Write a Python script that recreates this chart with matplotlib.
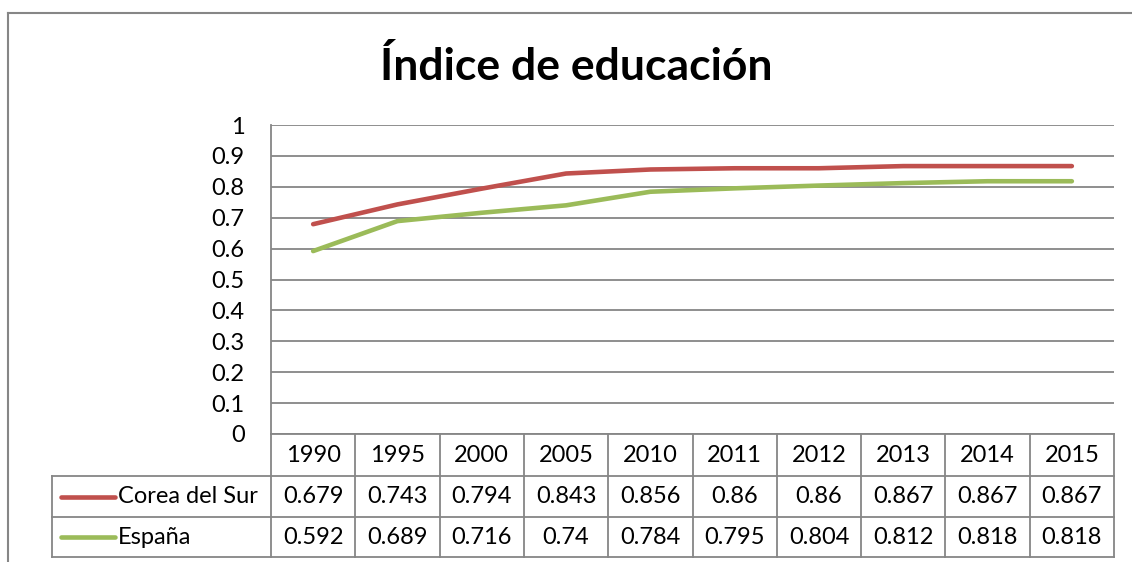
import matplotlib
matplotlib.use("Agg")
import matplotlib.pyplot as plt
from matplotlib.lines import Line2D

plt.rcParams['font.family'] = ['Lato', 'DejaVu Sans']

years = ["1990", "1995", "2000", "2005", "2010", "2011", "2012", "2013", "2014", "2015"]
corea = [0.679, 0.743, 0.794, 0.843, 0.856, 0.86, 0.86, 0.867, 0.867, 0.867]
espana = [0.592, 0.689, 0.716, 0.74, 0.784, 0.795, 0.804, 0.812, 0.818, 0.818]
series_names = ["Corea del Sur", "España"]
series_colors = ["#C0504D", "#9BBB59"]
yticks = [0, 0.1, 0.2, 0.3, 0.4, 0.5, 0.6, 0.7, 0.8, 0.9, 1]
title = "Índice de educación"

W, H = 1132, 562
fig = plt.figure(figsize=(W / 100, H / 100), dpi=100)
GRID = "#868686"
FS = 17

def fx(px):
    return px / W

def fy(py):
    return 1 - py / H

# outer chart border
fig.add_artist(Line2D([fx(8), fx(8)], [fy(13), fy(570)], color=GRID, lw=1.5))
fig.add_artist(Line2D([fx(8), fx(1140)], [fy(13), fy(13)], color=GRID, lw=1.5))

# plot area
L, R, T, B = 271, 1114, 125, 434
ax = fig.add_axes([fx(L), fy(B), fx(R) - fx(L), fy(T) - fy(B)])
x = list(range(len(years)))
for vals, c in zip([corea, espana], series_colors):
    ax.plot(x, vals, color=c, lw=3.3, solid_capstyle='round', zorder=3)
ax.set_xlim(-0.5, len(years) - 0.5)
ax.set_ylim(0, 1)
ax.set_yticks(yticks)
ax.set_yticklabels([f"{v:g}" for v in yticks], fontsize=FS)
ax.tick_params(axis='y', length=0, pad=19)
ax.tick_params(axis='x', length=0, labelbottom=False)
ax.grid(axis='y', color=GRID, lw=1.3)
ax.set_axisbelow(True)
for s in ['top', 'right', 'bottom']:
    ax.spines[s].set_visible(False)
ax.spines['left'].set_color(GRID)
ax.spines['left'].set_linewidth(1.3)

# title
fig.text(fx(576), fy(66), title, ha='center', va='center', fontsize=32, fontweight='bold')

# data table
colw = (R - L) / len(years)
hy0, hy1, r1, r2 = 434, 476, 517, 557
LEG = 52
lkw = dict(color=GRID, lw=1.3)
fig.add_artist(Line2D([fx(L), fx(R)], [fy(hy0), fy(hy0)], **lkw))
for yy in [hy1, r1, r2]:
    fig.add_artist(Line2D([fx(LEG), fx(R)], [fy(yy), fy(yy)], **lkw))
for k in range(len(years) + 1):
    xx = L + k * colw
    fig.add_artist(Line2D([fx(xx), fx(xx)], [fy(hy0), fy(r2)], **lkw))
fig.add_artist(Line2D([fx(LEG), fx(LEG)], [fy(hy1), fy(r2)], **lkw))

for k, yr in enumerate(years):
    fig.text(fx(L + (k + 0.5) * colw), fy((hy0 + hy1) / 2), yr, ha='center', va='center', fontsize=FS)
for (name, vals, c), (ya, yb) in zip(zip(series_names, [corea, espana], series_colors), [(hy1, r1), (r1, r2)]):
    yc = (ya + yb) / 2
    fig.add_artist(Line2D([fx(61), fx(115)], [fy(yc), fy(yc)], color=c, lw=3.3, solid_capstyle='round'))
    fig.text(fx(118), fy(yc), name, ha='left', va='center', fontsize=FS)
    for k, v in enumerate(vals):
        fig.text(fx(L + (k + 0.5) * colw), fy(yc), f"{v:g}", ha='center', va='center', fontsize=FS)

fig.savefig("out.png", dpi=100, facecolor="white")
